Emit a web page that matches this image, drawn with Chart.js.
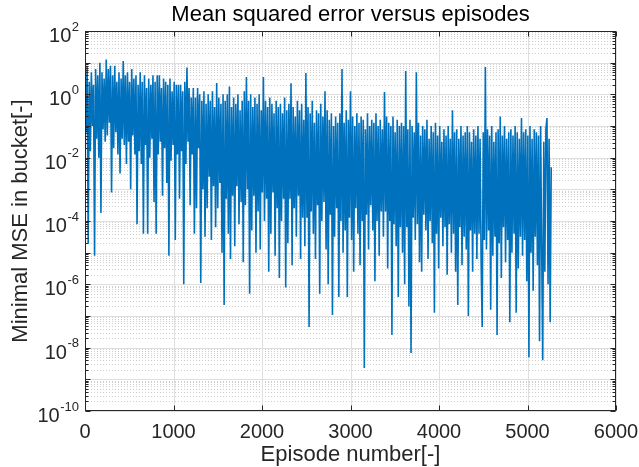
<!DOCTYPE html>
<html>
<head>
<meta charset="utf-8">
<script src="https://cdn.jsdelivr.net/npm/chart.js@4.4.1/dist/chart.umd.min.js"></script>
<style>
  html, body { margin: 0; padding: 0; background: #fff; }
  canvas { display: block; }
</style>
</head>
<body>
<canvas id="mseChart" width="639" height="467"></canvas>
<script>
// Dados (expoente log10 do MSE, um ponto a cada 12 episódios)
const episodeStep = 12;
const mseLog10 = [
  0.5, -1.2, 0.9, -4.7, 0.4, -1.8, 0.7, -1.0, 0.3, -5.1,
  0.8, -1.4, 0.6, -2.0, 1.0, -3.75, 0.7, -1.1, 0.5, -1.5,
  1.1, -1.3, 0.8, -0.9, 0.9, -3.1, 0.6, -1.7, 0.9, -1.2,
  0.4, -1.9, 0.7, -2.5, 0.5, -1.4, 1.05, -1.6, 0.6, -2.2,
  0.7, -1.5, 0.4, -3.0, 0.8, -1.3, 0.5, -1.9, 0.6, -4.1,
  0.3, -1.8, 0.7, -2.2, 0.4, -4.4, 0.6, -1.6, 0.2, -4.4,
  0.5, -2.0, 0.3, -1.4, 0.6, -3.4, 0.4, -4.4, 0.6, -1.9,
  0.6, -1.5, 0.2, -3.2, 0.5, -1.7, 0.4, -2.8, 0.3, -5.1,
  0.5, -2.1, 0.1, -1.6, 0.4, -4.6, 0.3, -1.9, 0.3, -3.3,
  0.3, -1.8, 0.1, -6.0, 0.4, -2.2, 0.85, -1.5, 0.2, -3.5,
  -0.1, -1.9, 0.2, -4.4, -0.1, -3.6, 0.2, -1.7, 0.0, -5.96,
  -0.2, -3.0, 0.1, -4.5, -0.3, -3.6, 0.0, -2.6, -0.2, -4.6,
  0.1, -2.9, -0.4, -4.2, 0.36, -3.6, -0.1, -2.8, -0.3, -5.0,
  0.0, -6.65, -0.2, -3.3, 0.0, -4.4, 0.25, -5.2, -0.4, -3.2,
  -0.1, -4.8, -0.3, -2.9, 0.0, -4.1, -0.5, -3.4, -0.2, -5.3,
  0.1, -3.5, 0.55, -3.0, -0.2, -6.3, 0.0, -4.3, -0.4, -3.2,
  -0.1, -5.0, -0.3, -3.7, 0.0, -4.9, -0.5, -3.1, 0.55, -4.0,
  -0.2, -3.3, -0.4, -5.6, -0.1, -4.4, -0.3, -3.1, -0.6, -5.1,
  -0.2, -3.6, -0.4, -5.8, -0.3, -4.0, -0.6, -3.3, -0.1, -6.1,
  -0.5, -4.7, -0.3, -3.3, 0.35, -5.4, -0.4, -3.6, -0.7, -4.5,
  -0.2, -3.2, -0.5, -5.2, -0.3, -3.9, -0.8, -4.8, 0.67, -3.9,
  -0.4, -7.35, -0.6, -3.7, -0.2, -4.4, -0.9, -5.2, -0.5, -3.5,
  -0.6, -6.3, -0.3, -4.0, -0.7, -3.4, 0.1, -4.9, -0.5, -6.0,
  -0.8, -3.8, -0.6, -6.97, -1.0, -4.5, -0.7, -3.6, -0.9, -6.4,
  -0.6, -4.0, 0.8, -5.0, -0.9, -4.3, -0.5, -6.4, -0.8, -3.9,
  0.1, -4.6, -0.7, -5.6, -1.0, -3.6, -0.6, -4.4, -0.9, -5.4,
  -0.7, -4.0, -0.8, -8.64, -1.1, -3.8, -0.6, -4.9, -1.0, -3.5,
  -0.8, -4.3, -0.9, -5.9, -0.6, -4.0, -1.0, -5.1, -0.8, -3.7,
  -1.1, -4.5, 0.07, -3.7, -0.7, -5.5, -0.9, -4.0, -1.0, -7.6,
  -0.7, -4.1, -1.2, -4.8, -0.8, -6.4, -1.0, -4.2, -0.9, -5.0,
  -1.0, -6.0, 0.74, -4.2, -1.1, -6.7, -0.8, -8.17, -1.0, -3.9,
  -1.2, -4.6, 0.7, -4.1, -0.9, -5.3, -1.3, -5.6, -1.0, -3.8,
  -1.1, -4.3, -0.8, -5.2, -1.4, -4.0, -1.0, -4.7, -1.2, -6.9,
  -0.9, -4.4, -1.3, -5.5, -1.0, -3.9, -1.5, -4.8, -1.1, -4.2,
  -1.3, -5.7, -1.0, -4.1, -1.4, -5.0, -0.5, -4.4, -1.2, -5.6,
  -1.1, -6.65, -1.4, -4.2, -1.0, -5.4, -1.3, -4.5, -1.2, -4.9,
  -1.0, -7.0, -1.2, -4.3, -1.5, -5.6, -1.1, -4.4, -1.3, -5.2,
  -1.0, -4.4, -1.4, -5.3, -7.35, -1.2, -4.6, 0.86, -4.9, -1.1,
  -4.3, -1.3, -6.8, -1.0, -5.1, -1.5, -4.5, -1.2, -7.6, -1.1,
  -4.7, -0.7, -5.8, -1.3, -4.2, -1.0, -5.3, -1.4, -4.6, -1.2,
  -7.2, -1.1, -5.0, -1.3, -4.4, -1.0, -6.9, -1.2, -5.5, -1.4,
  -4.5, -0.75, -5.1, -1.2, -4.6, -1.1, -5.9, -1.3, -8.3, -1.0,
  -5.0, -1.4, -6.2, -1.1, -4.5, -1.2, -5.4, -1.3, -7.8, -1.0,
  -4.8, -8.4, -1.5, -5.6, -1.1, -0.75, -6.0, -1.4, -7.2, -2.3
];

// Eixos
const xTickValues = [0, 1000, 2000, 3000, 4000, 5000, 6000];
const yLabelExponents = [-10, -8, -6, -4, -2, 0, 2];
const yMinExp = -10, yMaxExp = 2;

const fontFamily = '"Liberation Sans", Arial, Helvetica, sans-serif';
const axisColor = '#262626';
Chart.defaults.font.family = fontFamily;

const points = mseLog10.map((e, i) => ({ x: i * episodeStep, y: Math.pow(10, e) }));

const px = v => Math.round(v) + 0.5;

// Grade e moldura estilo MATLAB
const matlabAxes = {
  id: 'matlabAxes',
  beforeDatasetsDraw(chart) {
    const { ctx, chartArea: a, scales: { x, y } } = chart;
    ctx.save();
    ctx.lineWidth = 1;
    // grade menor pontilhada
    ctx.strokeStyle = '#cfcfcf';
    ctx.setLineDash([1, 2]);
    for (let k = yMinExp; k < yMaxExp; k++) {
      for (let m = 2; m <= 9; m++) {
        const py = px(y.getPixelForValue(m * Math.pow(10, k)));
        ctx.beginPath(); ctx.moveTo(a.left, py); ctx.lineTo(a.right, py); ctx.stroke();
      }
    }
    ctx.setLineDash([]);
    // grade maior
    ctx.strokeStyle = '#dfdfdf';
    for (let k = yMinExp; k <= yMaxExp; k++) {
      const py = px(y.getPixelForValue(Math.pow(10, k)));
      ctx.beginPath(); ctx.moveTo(a.left, py); ctx.lineTo(a.right, py); ctx.stroke();
    }
    xTickValues.forEach(v => {
      const pxx = px(x.getPixelForValue(v));
      ctx.beginPath(); ctx.moveTo(pxx, a.top); ctx.lineTo(pxx, a.bottom); ctx.stroke();
    });
    ctx.restore();
  },
  afterDatasetsDraw(chart) {
    const { ctx, chartArea: a, scales: { x, y } } = chart;
    const L = px(a.left), R = px(a.right - 1), T = px(a.top), B = px(a.bottom - 1);
    ctx.save();
    ctx.strokeStyle = axisColor;
    ctx.lineWidth = 1;
    ctx.strokeRect(L, T, R - L, B - T);
    ctx.beginPath();
    // ticks x (dentro, em cima e em baixo)
    xTickValues.forEach(v => {
      const p = px(x.getPixelForValue(v));
      ctx.moveTo(p, B); ctx.lineTo(p, B - 5);
      ctx.moveTo(p, T); ctx.lineTo(p, T + 5);
    });
    // ticks y maiores e menores
    for (let k = yMinExp; k <= yMaxExp; k++) {
      for (let m = 1; m <= 9; m++) {
        if (k === yMaxExp && m > 1) break;
        const p = px(y.getPixelForValue(m * Math.pow(10, k)));
        const len = m === 1 ? 5 : 3;
        ctx.moveTo(L, p); ctx.lineTo(L + len, p);
        ctx.moveTo(R, p); ctx.lineTo(R - len, p);
      }
    }
    ctx.stroke();

    // rótulos 10^n
    ctx.fillStyle = axisColor;
    ctx.textBaseline = 'alphabetic';
    const labelRight = a.left - 6;
    yLabelExponents.forEach(e => {
      const p = y.getPixelForValue(Math.pow(10, e));
      const sup = String(e);
      ctx.font = '13px ' + fontFamily;
      const ws = ctx.measureText(sup).width;
      ctx.textAlign = 'left';
      ctx.fillText(sup, labelRight - ws, p - 0.5);
      ctx.font = '20px ' + fontFamily;
      ctx.textAlign = 'right';
      ctx.fillText('10', labelRight - ws - 0.5, p + 11);
    });
    ctx.restore();
  }
};

const ctx = document.getElementById('mseChart').getContext('2d');
new Chart(ctx, {
  type: 'line',
  data: {
    datasets: [{
      label: 'MSE',
      data: points,
      borderColor: '#0072BD',
      borderWidth: 1.6,
      borderJoinStyle: 'bevel',
      pointRadius: 0,
      tension: 0,
      fill: false
    }]
  },
  options: {
    responsive: false,
    animation: false,
    events: [],
    layout: { padding: { right: 23 } },
    plugins: {
      legend: { display: false },
      tooltip: { enabled: false },
      title: {
        display: true,
        text: 'Mean squared error versus episodes',
        fullSize: false,
        color: '#000',
        font: { size: 22, weight: 'normal', lineHeight: 1 },
        padding: { top: 4, bottom: 5 }
      }
    },
    scales: {
      x: {
        type: 'linear',
        min: 0,
        max: 6000,
        grid: { display: false },
        border: { display: false },
        ticks: {
          stepSize: 1000,
          color: axisColor,
          font: { size: 20 },
          padding: 1,
          maxRotation: 0,
          callback: v => String(v)
        },
        title: {
          display: true,
          text: 'Episode number[-]',
          color: axisColor,
          font: { size: 22, lineHeight: 1 },
          padding: { top: 0, bottom: 1 }
        },
        afterFit: s => { s.height = 56; s.paddingLeft = 0; s.paddingRight = 0; }
      },
      y: {
        type: 'logarithmic',
        min: Math.pow(10, yMinExp),
        max: Math.pow(10, yMaxExp),
        grid: { display: false },
        border: { display: false },
        ticks: { display: false },
        title: {
          display: true,
          text: 'Minimal MSE in bucket[-]',
          color: axisColor,
          font: { size: 22, lineHeight: 1 },
          padding: { top: 10, bottom: 0 }
        },
        afterFit: s => { s.width = 85; s.paddingTop = 0; s.paddingBottom = 0; }
      }
    }
  },
  plugins: [matlabAxes]
});
</script>
</body>
</html>
